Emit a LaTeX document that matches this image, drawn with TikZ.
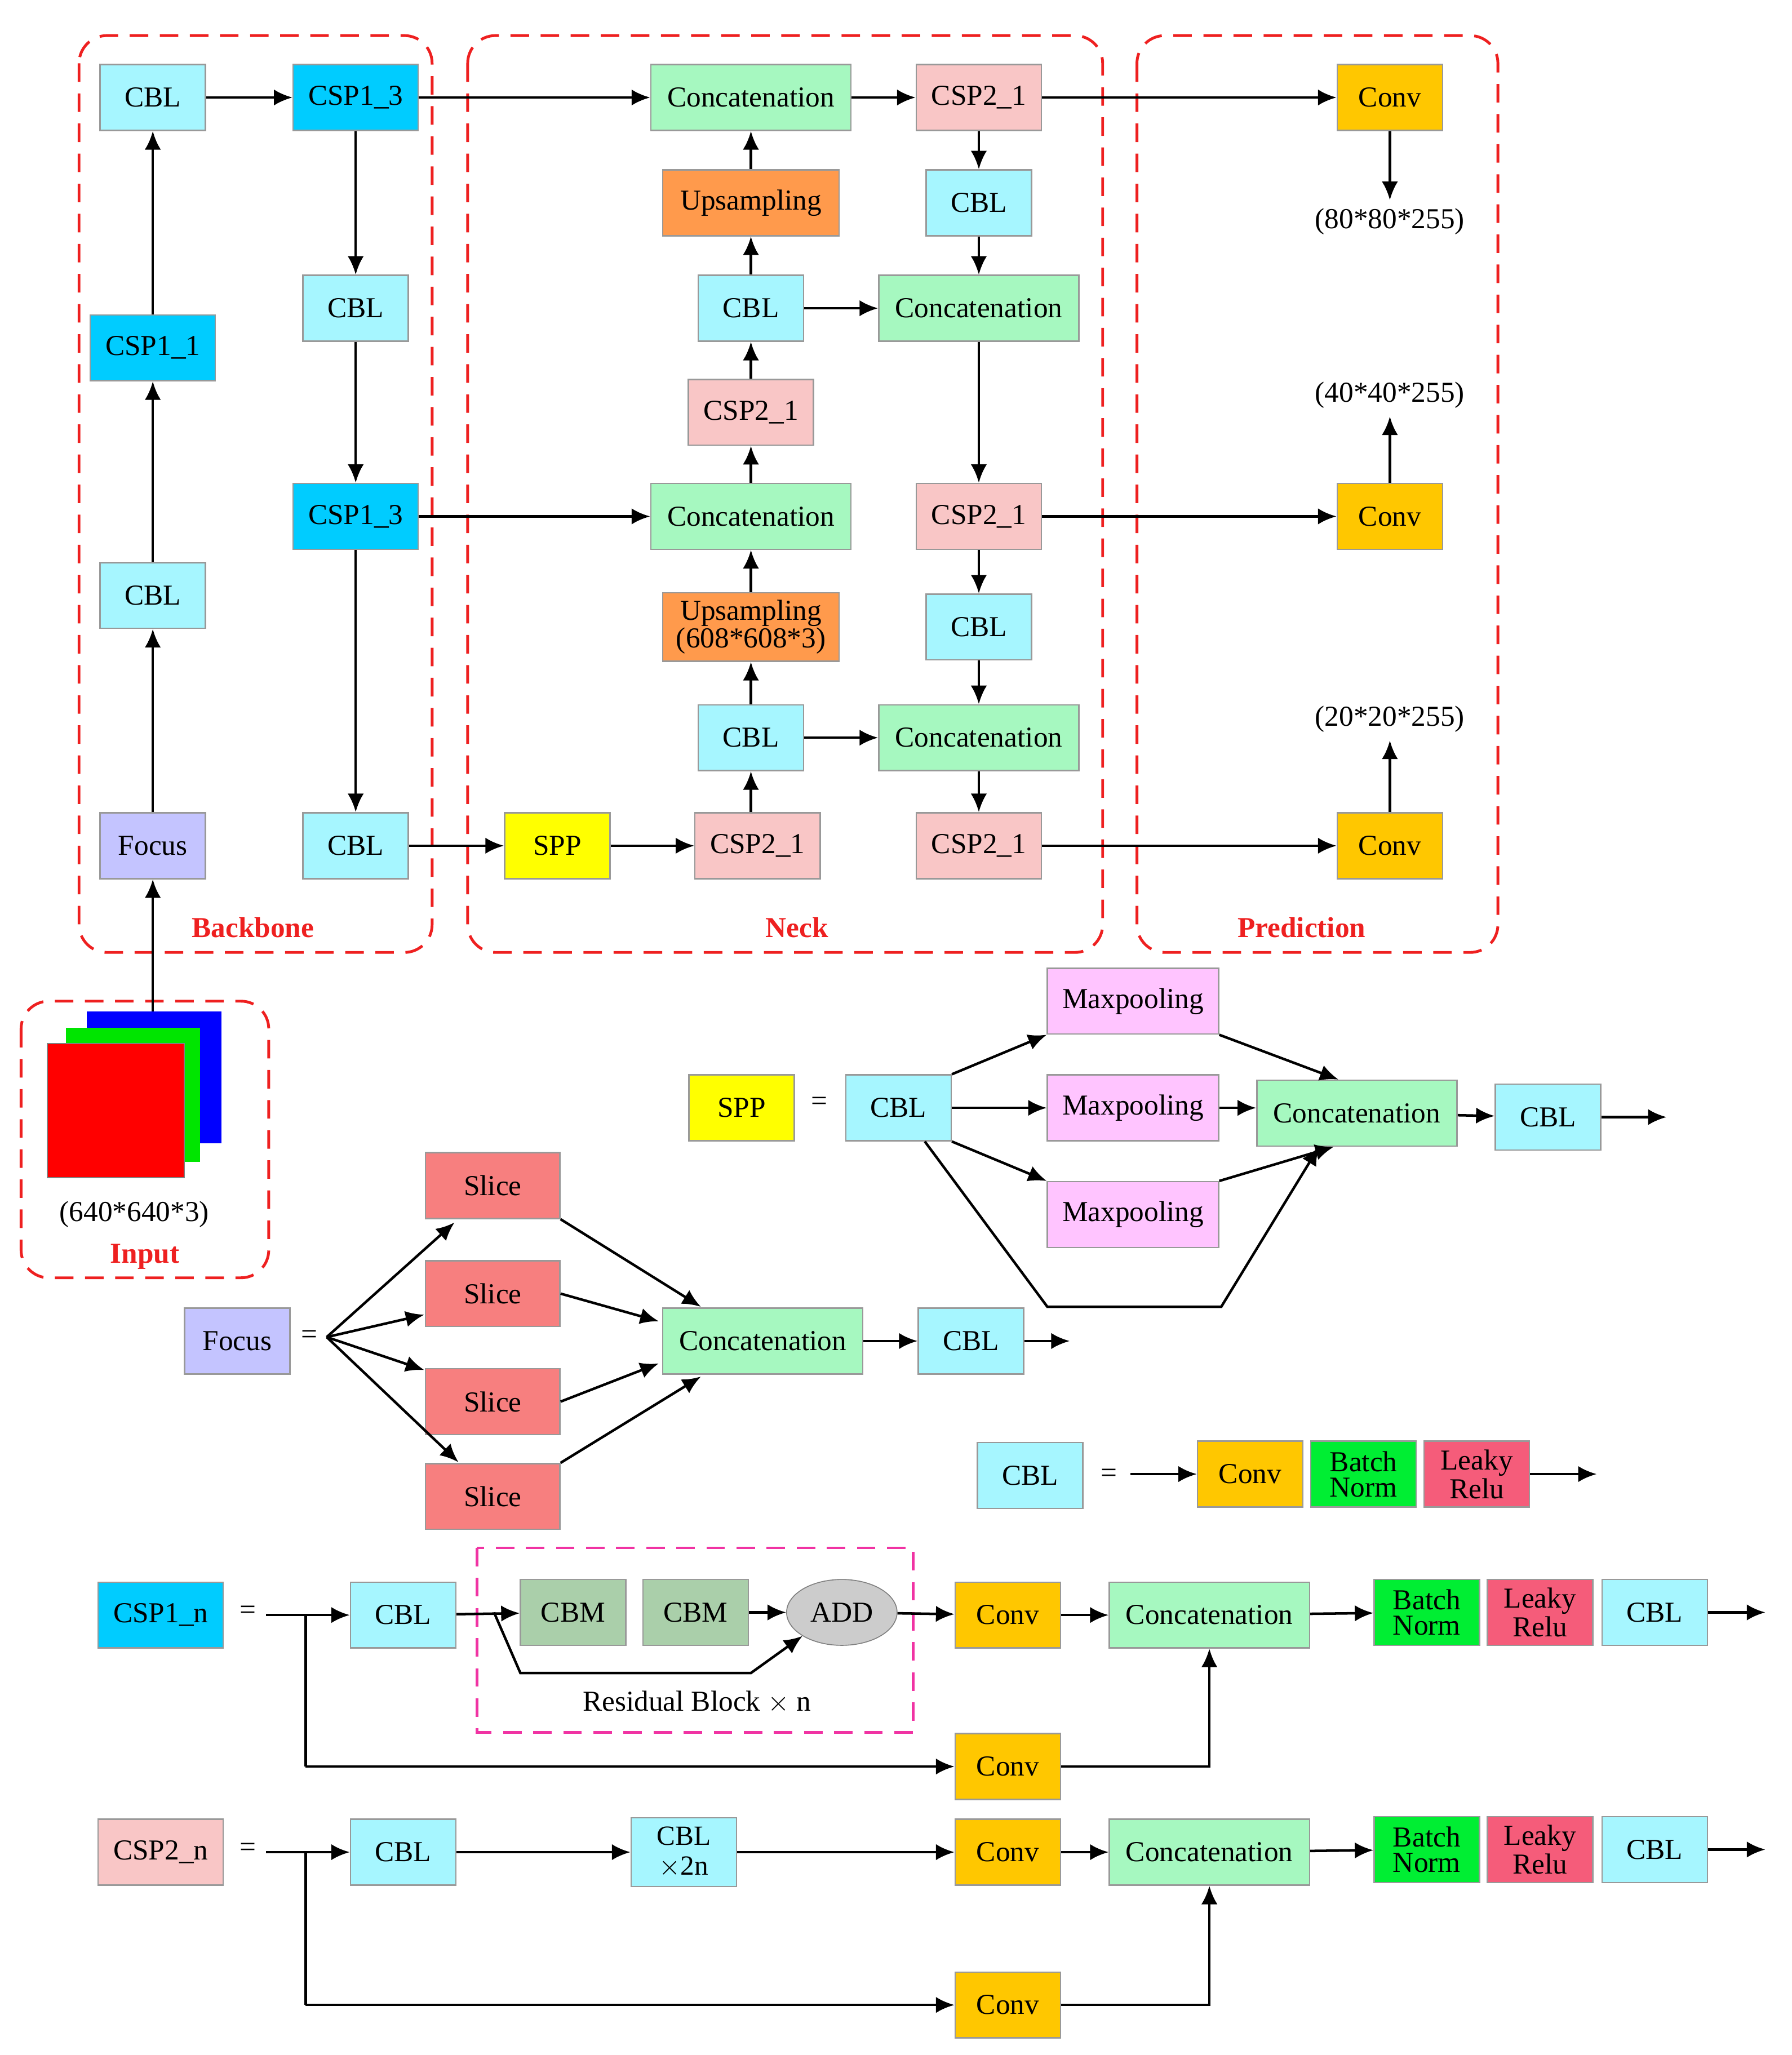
\documentclass[tikz,border=0pt]{standalone}
\usepackage{fontspec}
\setmainfont{Liberation Serif}
\usetikzlibrary{arrows.meta,shapes.geometric}
\definecolor{cblc}{HTML}{A6F6FF}
\definecolor{cspone}{HTML}{00CCFF}
\definecolor{csptwo}{HTML}{F9C6C6}
\definecolor{concc}{HTML}{A6F8C0}
\definecolor{upc}{HTML}{FF9A4C}
\definecolor{convc}{HTML}{FFC700}
\definecolor{focc}{HTML}{C4C4FF}
\definecolor{sppc}{HTML}{FFFF00}
\definecolor{maxc}{HTML}{FFC4FF}
\definecolor{slc}{HTML}{F77F7F}
\definecolor{bnc}{HTML}{00EE33}
\definecolor{lrc}{HTML}{F55C7A}
\definecolor{cbmc}{HTML}{AACFAA}
\definecolor{redl}{HTML}{EE2020}
\tikzset{
 b/.style={draw=gray!80,line width=0.6pt,minimum height=1cm,inner sep=1pt,font=\fontsize{12.5}{13}\selectfont,align=center},
 cbl/.style={b,fill=cblc,minimum width=1.6cm},
 cspa/.style={b,fill=cspone,minimum width=1.9cm},
 cspb/.style={b,fill=csptwo,minimum width=1.9cm},
 conc/.style={b,fill=concc,minimum width=3.04cm},
 up/.style={b,fill=upc,minimum width=2.68cm},
 conv/.style={b,fill=convc,minimum width=1.6cm},
 bn/.style={b,fill=bnc,minimum width=1.6cm,font=\fontsize{12.5}{11}\selectfont},
 lr/.style={b,fill=lrc,minimum width=1.6cm,font=\fontsize{12.5}{11}\selectfont},
 a/.style={-{Latex[length=8pt,width=7pt]},line width=1.1pt},
 l/.style={line width=1.1pt},
 grp/.style={draw=redl,dashed,line width=1.2pt,rounded corners=12pt,dash pattern=on 8pt off 5pt},
 lab/.style={text=redl,font=\bfseries\fontsize{12.5}{13}\selectfont},
 txt/.style={font=\fontsize{12.5}{13}\selectfont}
}
\begin{document}
\begin{tikzpicture}[x=0.02cm,y=-0.02cm]
\useasboundingbox (0,0) rectangle (1360,1560);
% groups
\draw[grp] (60,27) rectangle (328,723);
\draw[grp] (355,27) rectangle (837,723);
\draw[grp] (863,27) rectangle (1137,723);
\draw[grp] (16,760) rectangle (204,970);
\node[lab] (lbb) at (192,704) {Backbone};
\node[lab] (lnk) at (605,704) {Neck};
\node[lab] (lpr) at (988,704) {Prediction};
\node[lab] (lin) at (110,954) {Input};
\node[txt] (linsz) at (102,922) {(640*640*3)};
\fill[blue] (66,768) rectangle (168,868);
\fill[green!90!black] (50,780) rectangle (152,882);
\fill[red] (36,792) rectangle (140,894);
\draw[gray,line width=0.5pt] (36,792) rectangle (140,894);
\coordinate (inp) at (116,768);
% backbone
\node[cbl] (b1) at (116,74) {CBL};
\node[cspa] (b2) at (270,74) {CSP1\_3};
\node[cspa] (b3) at (116,264) {CSP1\_1};
\node[cbl] (b4) at (116,452) {CBL};
\node[b,fill=focc,minimum width=1.6cm] (foc) at (116,642) {Focus};
\node[cbl] (b5) at (270,234) {CBL};
\node[cspa] (b6) at (270,392) {CSP1\_3};
\node[cbl] (b7) at (270,642) {CBL};
% neck
\node[conc] (n1) at (570,74) {Concatenation};
\node[up] (n2) at (570,154) {Upsampling};
\node[cbl] (n3) at (570,234) {CBL};
\node[cspb] (n4) at (570,313) {CSP2\_1};
\node[conc] (n5) at (570,392) {Concatenation};
\node[up,minimum height=1.04cm,font=\fontsize{12.5}{12}\selectfont] (n6) at (570,476) {Upsampling\\(608*608*3)};
\node[cbl] (n7) at (570,560) {CBL};
\node[cspb] (n8) at (575,642) {CSP2\_1};
\node[b,fill=sppc,minimum width=1.6cm] (spp) at (423,642) {SPP};
\node[cspb] (m1) at (743,74) {CSP2\_1};
\node[cbl] (m2) at (743,154) {CBL};
\node[conc] (m3) at (743,234) {Concatenation};
\node[cspb] (m4) at (743,392) {CSP2\_1};
\node[cbl] (m5) at (743,476) {CBL};
\node[conc] (m6) at (743,560) {Concatenation};
\node[cspb] (m7) at (743,642) {CSP2\_1};
% prediction
\node[conv] (p1) at (1055,74) {Conv};
\node[conv] (p2) at (1055,392) {Conv};
\node[conv] (p3) at (1055,642) {Conv};
\node[txt] (o1) at (1055,168) {(80*80*255)};
\node[txt] (o2) at (1055,300) {(40*40*255)};
\node[txt] (o3) at (1055,546) {(20*20*255)};
% arrows top
\draw[a] (inp) -- (foc);
\draw[a] (foc) -- (b4); \draw[a] (b4) -- (b3); \draw[a] (b3) -- (b1);
\draw[a] (b1) -- (b2);
\draw[a] (b2) -- (b5); \draw[a] (b5) -- (b6); \draw[a] (b6) -- (b7);
\draw[a] (b7) -- (spp); \draw[a] (spp) -- (n8);
\draw[a] (n8.north -| n7) -- (n7); \draw[a] (n7) -- (n6); \draw[a] (n6) -- (n5);
\draw[a] (b6) -- (n5);
\draw[a] (n5) -- (n4); \draw[a] (n4) -- (n3); \draw[a] (n3) -- (n2); \draw[a] (n2) -- (n1);
\draw[a] (b2) -- (n1); \draw[a] (n1) -- (m1);
\draw[a] (m1) -- (m2); \draw[a] (m2) -- (m3); \draw[a] (n3) -- (m3);
\draw[a] (m3) -- (m4); \draw[a] (m4) -- (m5); \draw[a] (m5) -- (m6); \draw[a] (n7) -- (m6);
\draw[a] (m6) -- (m7);
\draw[a] (m1) -- (p1); \draw[a] (m4) -- (p2); \draw[a] (m7) -- (p3);
\draw[a] (p1) -- (o1); \draw[a] (p2) -- (o2); \draw[a] (p3) -- (o3);
% SPP definition
\node[b,fill=sppc,minimum width=1.6cm] (spp2) at (563,841) {SPP};
\node[txt] (eq1) at (622,838) {=};
\node[cbl] (s1) at (682,841) {CBL};
\node[b,fill=maxc,minimum width=2.6cm] (mx1) at (860,760) {Maxpooling};
\node[b,fill=maxc,minimum width=2.6cm] (mx2) at (860,841) {Maxpooling};
\node[b,fill=maxc,minimum width=2.6cm] (mx3) at (860,922) {Maxpooling};
\node[conc] (s2) at (1030,845) {Concatenation};
\node[cbl] (s3) at (1175,848) {CBL};
\coordinate (s3o) at (1265,848);
\draw[a] (s1.north east) -- (mx1.south west);
\draw[a] (s1) -- (mx2);
\draw[a] (s1.south east) -- (mx3.north west);
\draw[a] (mx1.south east) -- ([xshift=-8pt]s2.north);
\draw[a] (mx2) -- (s2.west |- mx2);
\draw[a] (mx3.north east) -- ([xshift=-10pt,yshift=0pt]s2.south);
\draw[a] (s1.south) ++(20,0) -- (795,992) -- (927,992) -- ([xshift=-5pt]s2.south -| 1010,0);
\draw[a] (s2) -- (s3); \draw[a] (s3) -- (s3o);
% Focus definition
\node[b,fill=focc,minimum width=1.6cm] (foc2) at (180,1018) {Focus};
\node[txt] (eq2) at (235,1015) {=};
\coordinate (fs) at (248,1015);
\node[b,fill=slc,minimum width=2.04cm] (sl1) at (374,900) {Slice};
\node[b,fill=slc,minimum width=2.04cm] (sl2) at (374,982) {Slice};
\node[b,fill=slc,minimum width=2.04cm] (sl3) at (374,1064) {Slice};
\node[b,fill=slc,minimum width=2.04cm] (sl4) at (374,1136) {Slice};
\node[conc] (fc) at (579,1018) {Concatenation};
\node[cbl] (fcbl) at (737,1018) {CBL};
\coordinate (fo) at (812,1018);
\draw[a] (fs) -- (345,928);
\draw[a] (fs) -- (322,998);
\draw[a] (fs) -- (322,1040);
\draw[a] (fs) -- (348,1110);
\draw[a] (sl1.south east) -- (532,992);
\draw[a] (sl2.east) -- (500,1003);
\draw[a] (sl3.east) -- (500,1035);
\draw[a] (sl4.north east) -- (532,1045);
\draw[a] (fc) -- (fcbl); \draw[a] (fcbl) -- (fo);
% CBL definition
\node[cbl] (c0) at (782,1120) {CBL};
\node[txt] (eq3) at (842,1120) {=};
\coordinate (ci) at (858,1119);
\node[conv] (c1) at (949,1119) {Conv};
\node[bn] (c2) at (1035,1119) {Batch\\Norm};
\node[lr] (c3) at (1121,1119) {Leaky\\Relu};
\coordinate (co) at (1212,1119);
\draw[a] (ci) -- (c1); \draw[a] (c3) -- (co);
% CSP1_n
\node[cspa] (d0) at (122,1226) {CSP1\_n};
\node[txt] (eq4) at (188,1224) {=};
\coordinate (di) at (202,1226);
\node[cbl] (d1) at (306,1226) {CBL};
\draw[magenta!80,dashed,line width=1.2pt,dash pattern=on 8pt off 5pt] (362,1175) rectangle (693,1315);
\node[b,fill=cbmc,minimum width=1.6cm] (d2) at (435,1224) {CBM};
\node[b,fill=cbmc,minimum width=1.6cm] (d3) at (528,1224) {CBM};
\node[ellipse,draw=gray,fill=gray!40,minimum width=1.6cm,minimum height=1cm,font=\fontsize{12.5}{13}\selectfont] (add) at (639,1224) {ADD};
\node[txt] (rbl) at (529,1292) {Residual Block $\times$ n};
\node[conv] (d4) at (765,1226) {Conv};
\node[conc] (d5) at (918,1226) {Concatenation};
\node[bn] (d6) at (1083,1224) {Batch\\Norm};
\node[lr] (d7) at (1169,1224) {Leaky\\Relu};
\node[cbl] (d8) at (1256,1224) {CBL};
\coordinate (do) at (1340,1224);
\node[conv] (d9) at (765,1341) {Conv};
\draw[a] (di) -- (d1);
\draw[l] (232,1226) -- (232,1341);
\draw[a] (232,1341) -- (d9);
\draw[a] (d1) -- (d2);
\draw[a] (d3) -- (add);
\draw[a] (375,1224) -- (395,1270) -- (570,1270) -- (add.south west);
\draw[a] (add) -- (d4); \draw[a] (d4) -- (d5); \draw[a] (d5) -- (d6); \draw[a] (d8) -- (do);
\draw[a] (d9) -| (d5);
% CSP2_n
\node[cspb] (e0) at (122,1406) {CSP2\_n};
\node[txt] (eq5) at (188,1404) {=};
\coordinate (ei) at (202,1406);
\node[cbl] (e1) at (306,1406) {CBL};
\node[cbl,minimum height=1.04cm,font=\fontsize{12}{13}\selectfont] (e2) at (519,1406) {CBL\\$\times$2n};
\node[conv] (e4) at (765,1406) {Conv};
\node[conc] (e5) at (918,1406) {Concatenation};
\node[bn] (e6) at (1083,1404) {Batch\\Norm};
\node[lr] (e7) at (1169,1404) {Leaky\\Relu};
\node[cbl] (e8) at (1256,1404) {CBL};
\coordinate (eo) at (1340,1404);
\node[conv] (e9) at (765,1522) {Conv};
\draw[a] (ei) -- (e1);
\draw[l] (232,1406) -- (232,1522);
\draw[a] (232,1522) -- (e9);
\draw[a] (e1) -- (e2); \draw[a] (e2) -- (e4); \draw[a] (e4) -- (e5); \draw[a] (e5) -- (e6); \draw[a] (e8) -- (eo);
\draw[a] (e9) -| (e5);
\end{tikzpicture}
\end{document}
